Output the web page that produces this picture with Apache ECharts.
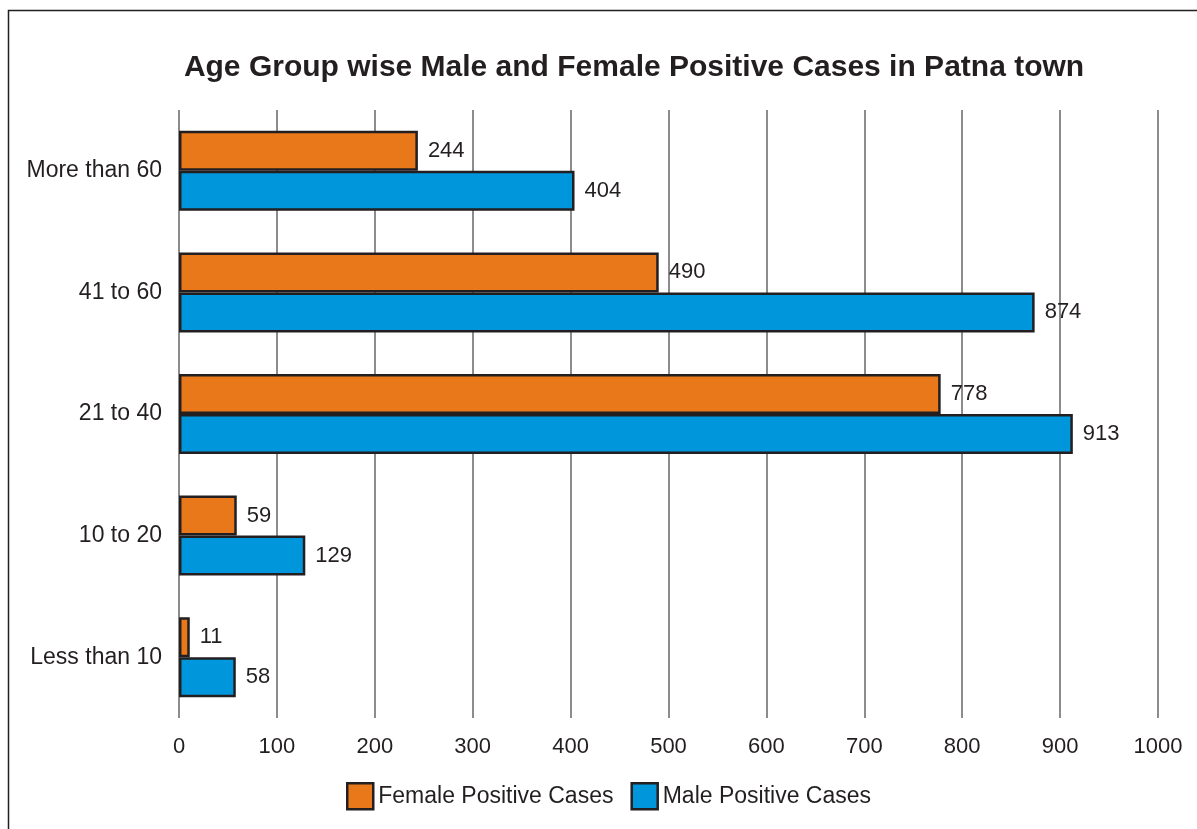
<!DOCTYPE html>
<html>
<head>
<meta charset="utf-8">
<script src="https://cdn.jsdelivr.net/npm/echarts@6/dist/echarts.min.js"></script>
<style>html,body{margin:0;padding:0;background:#fff;}#c{width:1197px;height:829px;}</style>
</head>
<body>
<div id="c"></div>
<script>
const categories = ['More than 60', '41 to 60', '21 to 40', '10 to 20', 'Less than 10'];
const femaleCases = [244, 490, 778, 59, 11];
const maleCases = [404, 874, 913, 129, 58];
const xTicks = [0, 100, 200, 300, 400, 500, 600, 700, 800, 900, 1000];

const chart = echarts.init(document.getElementById('c'));
const txt = '#231F20';
const font = 'Liberation Sans, Arial, sans-serif';
chart.setOption({
  animation: false,
  textStyle: { fontFamily: font },
  graphic: [{
    type: 'rect', shape: { x: 8.5, y: 10.5, width: 1300, height: 900 },
    style: { fill: 'none', stroke: '#231F20', lineWidth: 1.5 }, z: -10
  }],
  title: {
    text: 'Age Group wise Male and Female Positive Cases in Patna town',
    left: 629, top: 48, textAlign: 'center',
    textStyle: { fontSize: 30, fontWeight: 'bold', color: txt, fontFamily: font }
  },
  legend: {
    data: ['Female Positive Cases', 'Male Positive Cases'],
    left: 346, top: 782, padding: 0,
    itemWidth: 26, itemHeight: 26, itemGap: 17,
    icon: 'rect',
    textStyle: { fontSize: 23, color: txt, fontFamily: font },
    itemStyle: { borderColor: txt, borderWidth: 2.5 }
  },
  grid: { left: 179, right: 39, top: 110, bottom: 111 },
  xAxis: {
    type: 'value', min: 0, max: 1000, interval: 100,
    axisLine: { show: false }, axisTick: { show: false },
    axisLabel: { fontSize: 22, color: txt, margin: 18, fontFamily: font,
      formatter: v => xTicks.includes(v) ? String(v) : '' },
    splitLine: { show: true, lineStyle: { color: '#8c8c8c', width: 2 } }
  },
  yAxis: {
    type: 'category', data: categories, inverse: true,
    axisLine: { show: false }, axisTick: { show: false },
    axisLabel: { fontSize: 23, color: txt, margin: 17, fontFamily: font }
  },
  series: [
    {
      name: 'Female Positive Cases', type: 'bar', data: femaleCases,
      barWidth: 40, barGap: '0%',
      itemStyle: { color: '#E8781A', borderColor: txt, borderWidth: 2.5 },
      label: { show: true, position: 'right', distance: 10, fontSize: 22, color: txt, fontFamily: font }
    },
    {
      name: 'Male Positive Cases', type: 'bar', data: maleCases,
      barWidth: 40, barGap: '0%',
      itemStyle: { color: '#0096DC', borderColor: txt, borderWidth: 2.5 },
      label: { show: true, position: 'right', distance: 10, fontSize: 22, color: txt, fontFamily: font }
    }
  ]
});
</script>
</body>
</html>
